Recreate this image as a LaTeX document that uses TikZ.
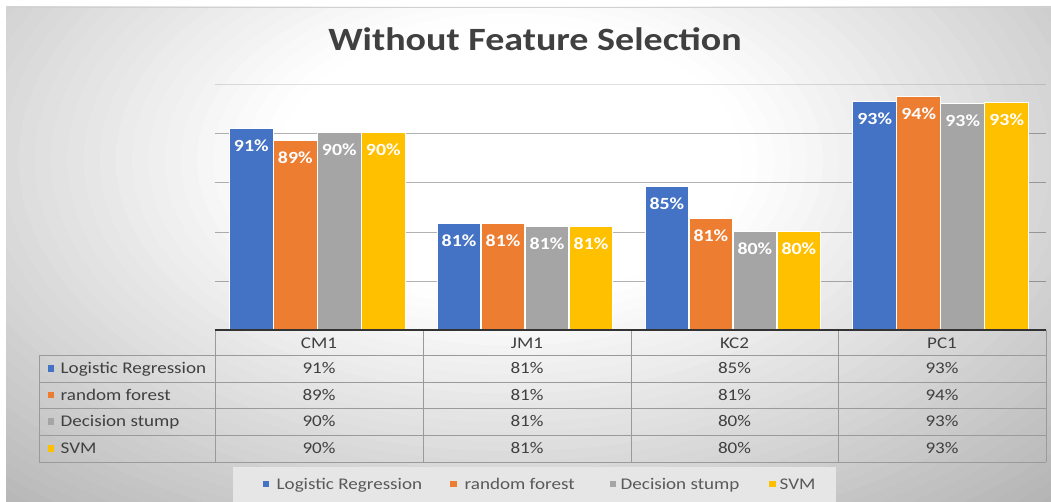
\documentclass[tikz,border=0pt]{standalone}
\usepackage{fontspec}
\newfontfamily\chartfont{Carlito}[FakeStretch=1.17]
\definecolor{lrblue}{HTML}{4472C4}
\definecolor{rforange}{HTML}{ED7D31}
\definecolor{dsgray}{HTML}{A5A5A5}
\definecolor{svmgold}{HTML}{FFC000}
\definecolor{inktext}{HTML}{404040}
\definecolor{legendtext}{HTML}{595959}
\definecolor{rulecol}{HTML}{9A9A9A}
\definecolor{legendfill}{HTML}{E6E6E6}
\tikzset{
  gridrule/.style={black, opacity=0.3, line width=0.9pt},
  tablerule/.style={rulecol, line width=0.9pt},
  barbox/.style={draw=white, line width=0.9pt},
  barlabel/.style={text=white, font=\chartfont\bfseries\fontsize{17}{19}\selectfont, inner sep=0pt},
  celltext/.style={text=inktext, font=\chartfont\fontsize{16.3}{19}\selectfont, inner sep=0pt, anchor=base},
  keytext/.style={celltext, anchor=base west},
  legtext/.style={text=legendtext, font=\chartfont\fontsize{16.3}{19}\selectfont, inner sep=0pt, anchor=base west},
  keysq/.style={minimum size=6.5pt, inner sep=0pt},
}
\begin{document}
\begin{tikzpicture}[x=1pt,y=-1pt]
\useasboundingbox (0,0) rectangle (1051,502);
% backdrop: white margin, then a soft glow that greys towards the edges
\fill[white] (0,0) rectangle (1051,502);
\begin{scope}
  \clip (6,7) rectangle (1051,502);
  \fill[black!30] (6,7) rectangle (1051,502);
  \foreach \i in {0,...,39}{
    \pgfmathsetmacro{\f}{1.6-\i*0.03}
    \pgfmathsetmacro{\p}{min(30,max(0,30*(\f-0.45)/1.05))}
    \fill[black!\p] (510,160) ellipse [x radius=540*\f, y radius=320*\f];
  }
\end{scope}
\draw[black!18, line width=0.8pt] (6,7.4) -- (1051,7.4);

% title
\node[text=inktext, font=\chartfont\bfseries\fontsize{32.5}{36}\selectfont, inner sep=0pt, anchor=base] (title) at (535,51) {Without Feature Selection};

% horizontal gridlines of the plot area
\draw[gridrule, opacity=0.12] (215,84) -- (1046,84);
\foreach \gy in {133,182,232,281}
  \draw[gridrule] (215,\gy) -- (1046,\gy);

% bars: category / series / top edge / value / colour
\foreach \c/\k/\top/\v/\col in {
  0/0/128/91/lrblue, 0/1/140/89/rforange, 0/2/132/90/dsgray, 0/3/132/90/svmgold,
  1/0/223/81/lrblue, 1/1/223/81/rforange, 1/2/226/81/dsgray, 1/3/226/81/svmgold,
  2/0/186/85/lrblue, 2/1/218/81/rforange, 2/2/231/80/dsgray, 2/3/231/80/svmgold,
  3/0/101/93/lrblue, 3/1/96/94/rforange,  3/2/103/93/dsgray, 3/3/102/93/svmgold}{
  \pgfmathsetmacro{\bx}{229.5+207.8*\c+44*\k}
  \fill[\col] (\bx,\top) rectangle ++(43.5,330-\top);
  \draw[barbox] (\bx,330) -- (\bx,\top) -- ++(43.5,0) -- (\bx+43.5,330);
  \node[barlabel] (lbl-\c-\k) at (\bx+21.75,\top+18) {\v\%};
}

% data table below the axis
\draw[tablerule] (39,355) -- (1046,355);
\foreach \ry in {382,408,435,462}
  \draw[tablerule] (39,\ry) -- (1046,\ry);
\draw[tablerule] (39,355) -- (39,462);
\foreach \cx in {215,423,631,838,1046}
  \draw[tablerule] (\cx,330) -- (\cx,462);
\draw[black!80, line width=1.3pt] (215,330) -- (1046,330);

% column headings
\foreach \n/\name/\cx in {0/CM1/319, 1/JM1/527, 2/KC2/734.5, 3/PC1/942}
  \node[celltext] (head-\n) at (\cx,348.5) {\name};

% table rows: key square, series name and the four values
\foreach \r/\ry/\col/\name/\va/\vb/\vc/\vd in {
  0/368.5/lrblue/Logistic Regression/91/81/85/93,
  1/395/rforange/random forest/89/81/81/94,
  2/421.5/dsgray/Decision stump/90/81/80/93,
  3/448.5/svmgold/SVM/90/81/80/93}{
  \node[keysq, fill=\col] (key-\r) at (51,\ry) {};
  \node[keytext] (name-\r) at (60.5,\ry+5.3) {\name};
  \node[celltext] (val-\r-0) at (319,\ry+5.3) {\va\%};
  \node[celltext] (val-\r-1) at (527,\ry+5.3) {\vb\%};
  \node[celltext] (val-\r-2) at (734.5,\ry+5.3) {\vc\%};
  \node[celltext] (val-\r-3) at (942,\ry+5.3) {\vd\%};
}

% legend
\node[fill=legendfill, minimum width=603pt, minimum height=35pt, inner sep=0pt] (legend) at (534.5,484) {};
\foreach \i/\sx/\tx/\col/\name in {0/266/276.5/lrblue/Logistic Regression, 1/453.5/464.5/rforange/random forest, 2/613/620.5/dsgray/Decision stump, 3/772.5/779.5/svmgold/SVM}{
  \node[keysq, fill=\col] (legkey-\i) at (\sx,484) {};
  \node[legtext] (legname-\i) at (\tx,489.3) {\name};
}
\end{tikzpicture}
\end{document}
